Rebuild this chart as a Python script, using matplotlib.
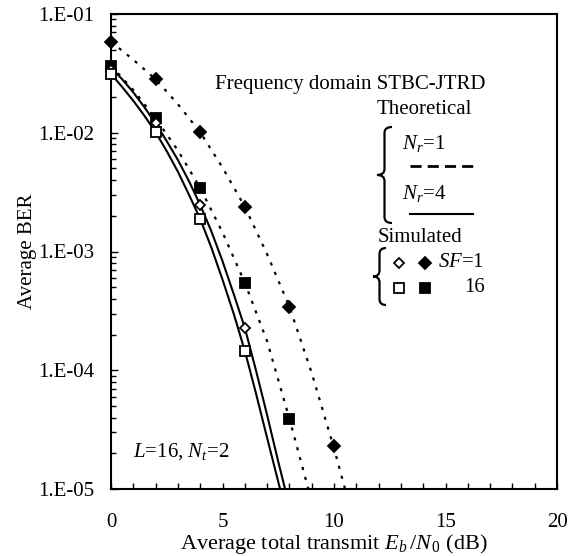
import numpy as np
import matplotlib
matplotlib.use("Agg")
import matplotlib.pyplot as plt
from matplotlib.lines import Line2D
from matplotlib.path import Path
from matplotlib.patches import PathPatch
from matplotlib.ticker import FixedLocator, FuncFormatter, MultipleLocator

plt.rcParams['font.family'] = ['Liberation Serif', 'DejaVu Serif']
plt.rcParams['mathtext.fontset'] = 'custom'
plt.rcParams['mathtext.rm'] = 'Liberation Serif'
plt.rcParams['mathtext.it'] = 'Liberation Serif:italic'

# Simulated points (Eb/N0 in dB, BER)
snr_sim = [0, 2, 4, 6, 8, 10]
ber_sf1_nr1 = [0.0585, 0.0282, 0.0101, 0.00238, 3.43e-4, 2.32e-5]   # filled diamonds
snr_sf16_nr1 = [0, 2, 4, 6, 8]
ber_sf16_nr1 = [0.0367, 0.0132, 0.00343, 5.46e-4, 3.91e-5]           # filled squares
snr_nr4 = [0, 2, 4, 6]
ber_sf1_nr4 = [0.034, 0.012, 0.00247, 2.28e-4]                       # open diamonds
ber_sf16_nr4 = [0.0313, 0.0101, 0.00188, 1.46e-4]                    # open squares

# Theoretical curves
th_nr1_sf1_x = [0, 1, 2, 3, 4, 5, 6, 7, 8, 9, 10, 10.6]
th_nr1_sf1_y = [0.0585, 0.0412, 0.0282, 0.0174, 0.0101, 0.0051, 0.00238,
                9.5e-4, 3.43e-4, 9.5e-5, 2.2e-5, 8.5e-6]
th_nr1_sf16_x = [0, 1, 2, 3, 4, 5, 6, 7, 8, 8.95]
th_nr1_sf16_y = [0.0367, 0.0229, 0.0132, 0.0071, 0.00343, 0.00145, 5.46e-4,
                 1.76e-4, 3.91e-5, 8.5e-6]
th_nr4_sf1_x = [0, 0.5, 1, 1.5, 2, 2.5, 3, 3.5, 4, 4.5, 5, 5.5, 6, 6.5, 7, 7.5, 7.9]
th_nr4_sf1_y = [0.0355, 0.0282, 0.0219, 0.0164, 0.0120, 0.0085, 0.0059, 0.0039,
                0.00247, 0.00148, 8.3e-4, 4.4e-4, 2.28e-4, 1.0e-4, 4.2e-5,
                1.7e-5, 8.5e-6]
th_nr4_sf16_x = [0, 0.5, 1, 1.5, 2, 2.5, 3, 3.5, 4, 4.5, 5, 5.5, 6, 6.5, 7, 7.5, 7.68]
th_nr4_sf16_y = [0.0313, 0.0243, 0.0186, 0.0139, 0.0101, 0.0070, 0.0047, 0.0030,
                 0.00188, 0.00108, 5.8e-4, 3.0e-4, 1.46e-4, 6.4e-5, 2.7e-5,
                 1.15e-5, 8.5e-6]

W, H = 578, 556
fig = plt.figure(figsize=(W / 100, H / 100), dpi=100)
ax = fig.add_axes([111 / W, 1 - 489 / H, (557 - 111) / W, (489 - 14) / H])


def fx(px):
    return px / W


def fy(py):
    return 1 - py / H


dotted = (0, (1.4, 3.2))
ax.plot(th_nr1_sf1_x, th_nr1_sf1_y, color='black', lw=1.6, ls=dotted)
ax.plot(th_nr1_sf16_x, th_nr1_sf16_y, color='black', lw=1.6, ls=dotted)
ax.plot(th_nr4_sf1_x, th_nr4_sf1_y, color='black', lw=1.5)
ax.plot(th_nr4_sf16_x, th_nr4_sf16_y, color='black', lw=1.5)

mk = dict(ls='none', color='black', markeredgewidth=1.3, clip_on=False, zorder=5)
ax.plot(snr_sim, ber_sf1_nr1, marker='D', ms=6.5, markerfacecolor='black', **mk)
ax.plot(snr_sf16_nr1, ber_sf16_nr1, marker='s', ms=7, markerfacecolor='black', **mk)
ax.plot(snr_nr4, ber_sf1_nr4, marker='D', ms=5.5, markerfacecolor='white', **mk)
ax.plot(snr_nr4, ber_sf16_nr4, marker='s', ms=7, markerfacecolor='white', **mk)

ax.set_yscale('log')
ax.set_xlim(0, 20)
ax.set_ylim(1e-5, 1e-1)
ax.xaxis.set_major_locator(MultipleLocator(5))
ax.xaxis.set_minor_locator(MultipleLocator(1))
ax.yaxis.set_major_locator(FixedLocator([1e-5, 1e-4, 1e-3, 1e-2, 1e-1]))
ax.yaxis.set_major_formatter(FuncFormatter(lambda v, p: "1.E-%02d" % round(-np.log10(v))))
ax.tick_params(axis='x', which='both', direction='in', length=4, width=1,
               labelsize=15, pad=17)
ax.tick_params(axis='y', which='major', direction='in', length=5, width=1,
               labelsize=15, pad=12)
ax.tick_params(axis='y', which='minor', direction='in', length=3.5, width=1)
for s in ax.spines.values():
    s.set_linewidth(1.5)

ax.set_xlabel(r"Average total transmit $E_{b}\,/N_{\,0}$ (dB)", fontsize=16, labelpad=0)
ax.set_ylabel("Average BER", fontsize=15, labelpad=1)

# Annotations / legend block
fs = 15
fig.text(fx(215), fy(84), "Frequency domain STBC-JTRD", fontsize=fs, va='center')
fig.text(fx(424), fy(110), "Theoretical", fontsize=fs, va='center', ha='center')
fig.text(fx(402), fy(143), r"$N_r$=1", fontsize=fs, va='center')
fig.text(fx(402), fy(194), r"$N_r$=4", fontsize=fs, va='center')
fig.text(fx(378), fy(238), "Simulated", fontsize=fs, va='center')
fig.text(fx(438), fy(263), r"$SF$=1", fontsize=fs, va='center')
fig.text(fx(485), fy(288), "16", fontsize=fs, va='center', ha='right')
fig.text(fx(133), fy(452), r"$L$=16, $N_t$=2", fontsize=fs, va='center')

fig.add_artist(Line2D([fx(410), fx(473)], [fy(166), fy(166)], color='black',
                      lw=2, ls=(0, (4, 2.2)), transform=fig.transFigure))
fig.add_artist(Line2D([fx(410), fx(473)], [fy(214), fy(214)], color='black',
                      lw=1.5, transform=fig.transFigure))
for px, py, m, face, size in [(399, 263, 'D', 'white', 5.5), (425, 263, 'D', 'black', 6.5),
                              (399, 288, 's', 'white', 6.5), (425, 288, 's', 'black', 6.5)]:
    fig.add_artist(Line2D([fx(px)], [fy(py)], marker=m, ms=size, color='black',
                          markerfacecolor=face, markeredgewidth=1.3, ls='none',
                          transform=fig.transFigure))


def brace(x_tip, x_end, y_top, y_bot):
    xm = (x_tip + x_end) / 2
    ym = (y_top + y_bot) / 2
    r = min(6, (y_bot - y_top) / 6)
    pts = [(x_end, y_top), (xm, y_top), (xm, y_top + r),
           (xm, ym - r), (xm, ym), (x_tip, ym),
           (xm, ym), (xm, ym + r),
           (xm, y_bot - r), (xm, y_bot), (x_end, y_bot)]
    codes = [Path.MOVETO, Path.CURVE3, Path.CURVE3,
             Path.LINETO, Path.CURVE3, Path.CURVE3,
             Path.CURVE3, Path.CURVE3,
             Path.LINETO, Path.CURVE3, Path.CURVE3]
    verts = [(fx(a), fy(b)) for a, b in pts]
    fig.add_artist(PathPatch(Path(verts, codes), fill=False, lw=1.6,
                             edgecolor='black', transform=fig.transFigure))


brace(377, 392, 127, 223)
brace(373, 386, 248, 305)

fig.savefig("out.png", dpi=100)
